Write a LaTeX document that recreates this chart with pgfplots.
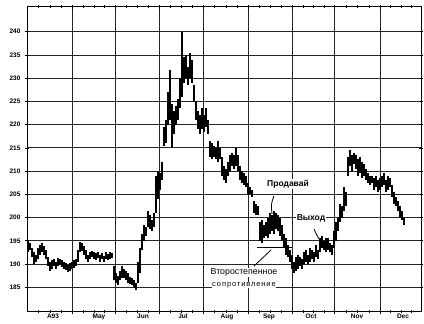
\documentclass[border=0pt]{standalone}
\usepackage{pgfplots}
\pgfplotsset{compat=1.18}
\usepackage{pgfplotstable}
\usepackage{fontspec}
\setmainfont{Liberation Sans}

\pgfplotstableread{
x lo hi
28 192.5 195.0
30 193.0 194.5
32 191.5 193.5
34 190.0 192.5
36 190.5 192.0
38 191.0 193.5
40 192.0 194.0
42 192.5 194.5
44 192.0 193.8
46 191.0 193.0
48 189.5 191.5
50 188.5 190.5
52 189.0 190.8
54 189.5 191.0
56 189.0 190.5
58 189.5 191.2
60 189.8 191.0
62 189.3 190.8
64 189.0 190.5
66 188.8 190.3
68 188.2 189.8
70 188.6 190.2
72 189.0 190.5
74 189.2 190.8
76 189.5 191.0
78 190.5 193.0
80 192.5 194.8
82 192.8 194.5
84 192.0 193.8
86 191.0 193.0
88 190.5 192.0
90 191.0 192.5
92 191.5 192.8
94 191.0 192.5
96 190.8 192.3
98 191.2 192.5
100 190.5 192.0
102 191.0 192.3
104 190.5 191.8
106 191.0 192.5
108 190.8 192.2
110 191.0 192.5
112 191.2 192.3
114 186.5 189.5
116 186.0 188.0
118 185.5 187.5
120 186.5 188.5
122 187.0 189.5
124 187.0 189.0
126 186.5 188.5
128 186.0 188.0
130 185.8 187.3
132 185.5 187.0
134 185.0 186.5
136 184.5 186.0
138 186.0 190.5
140 188.0 193.5
142 193.0 196.5
144 195.0 198.5
146 196.0 198.0
148 198.0 201.5
150 197.5 200.5
152 197.0 199.5
154 198.0 201.0
156 201.0 209.0
158 204.0 210.0
160 206.0 209.5
162 208.0 212.0
164 215.5 219.5
166 216.0 221.0
168 220.0 227.0
170 221.0 231.8
172 215.0 224.5
174 218.0 223.0
176 220.0 224.0
178 221.0 225.5
180 223.5 230.0
182 226.0 240.0
184 229.0 234.5
186 230.0 235.0
188 228.5 232.5
190 230.0 235.5
192 229.0 234.0
194 225.0 228.5
196 221.0 225.0
198 219.0 223.0
200 218.0 222.0
202 219.0 223.5
204 218.5 222.0
206 219.5 223.5
208 218.0 221.0
210 213.0 216.5
212 212.5 216.0
214 213.0 215.5
216 212.5 215.0
218 212.0 216.5
220 212.5 215.0
222 209.0 213.0
224 208.0 211.0
226 207.5 210.5
228 209.0 212.0
230 210.0 213.5
232 211.0 214.0
234 210.5 213.5
236 211.0 215.0
238 210.0 213.5
240 208.0 211.0
242 207.5 210.0
244 207.0 209.5
246 206.5 209.0
248 205.0 207.5
250 205.0 206.5
252 204.5 206.0
254 201.0 203.5
256 200.5 203.0
258 200.5 202.5
260 195.0 199.0
262 194.5 199.5
264 195.5 198.5
266 196.0 199.0
268 195.5 200.0
270 196.5 201.0
272 197.0 200.5
274 196.5 201.5
276 197.5 201.0
278 197.0 200.5
280 196.0 200.0
282 195.0 198.5
284 193.5 196.5
286 192.0 195.5
288 191.5 194.0
290 190.5 193.0
292 189.0 192.0
294 188.0 190.5
296 188.5 191.5
298 189.0 192.0
300 189.5 191.5
302 189.0 191.0
304 190.0 192.5
306 190.5 193.0
308 190.0 192.0
310 190.5 193.5
312 191.0 193.0
314 190.5 192.5
316 191.5 194.0
318 191.0 193.0
320 192.5 195.5
322 193.5 196.0
324 193.0 195.0
326 192.5 195.5
328 193.0 195.5
330 192.5 194.5
332 192.0 194.0
334 193.5 197.0
336 195.0 199.0
338 197.0 200.0
340 199.0 203.0
342 200.0 202.5
344 201.5 206.5
346 202.5 205.5
348 209.0 213.0
350 211.0 214.5
352 210.0 213.5
354 211.5 214.0
356 210.5 213.5
358 209.0 212.5
360 209.5 213.0
362 208.5 212.0
364 209.0 211.5
366 208.0 210.5
368 207.5 209.5
370 207.0 209.0
372 207.5 209.0
374 206.0 208.5
376 206.5 209.0
378 205.5 208.0
380 206.0 208.5
382 206.5 209.0
384 207.0 209.5
386 205.5 208.0
388 206.0 209.0
390 206.5 208.5
392 204.5 207.0
394 203.0 205.5
396 202.5 204.5
398 201.5 203.5
400 200.0 202.5
402 199.5 201.5
404 198.5 200.0
}\bars

\begin{document}
\begin{tikzpicture}[x=1pt,y=1pt]
\useasboundingbox[fill=white] (0,0) rectangle (424,324);
\begin{axis}[
  at={(27pt,12pt)}, anchor=south west,
  scale only axis, width=394pt, height=305pt,
  xmin=27, xmax=421, ymin=179.67, ymax=245.33,
  axis line style={black, line width=1pt},
  /pgf/number format/assume math mode=true,
  ytick={185,190,...,240},
  yticklabel style={font=\fontsize{6.5}{6.5}\selectfont\bfseries, xshift=-1pt},
  xtick={72,115,159,203,248,292,334,380},
  xticklabels={},
  minor xtick={38,50,61,83,94,104,126,137,148,170,181,192,214,226,237,259,270,281,303,313,324,346,357,369,390,401,411},
  xmajorgrids, ymajorgrids,
  grid style={black!85, line width=0.9pt},
  tick align=center,
  major tick length=4pt, minor tick length=3pt,
  tick style={black, line width=0.6pt},
  clip=false,
]
\addplot[draw=none, mark=none,
  error bars/.cd, y dir=plus, y explicit, error mark=none,
  error bar style={draw=black, solid, line width=1.15pt}]
  table[x=x, y=lo, y error plus expr=\thisrow{hi}-\thisrow{lo}] {\bars};

\foreach \m/\xx in {A93/53, May/99, Jun/143, Jul/183, Aug/227, Sep/269, Oct/311, Nov/357, Dec/403}{
  \edef\tmp{\noexpand\node[font=\noexpand\fontsize{6.5}{6.5}\noexpand\selectfont\noexpand\bfseries, anchor=center] at (axis cs:\xx,179.67) [yshift=-4.5pt] {\m};}
  \tmp
}
\end{axis}
% annotations (picture coords: y = 324 - pixel row)
\node[fill=white, inner sep=1pt, font=\fontsize{8.5}{8.5}\selectfont\bfseries] at (288,140) {Продавай};
\node[fill=white, inner sep=1pt, font=\fontsize{8.5}{8.5}\selectfont\bfseries] at (311,106) {Выход};
\node[fill=white, inner sep=0.5pt, font=\fontsize{8.8}{8.8}\selectfont] at (244,51.5) {Второстепенное};
\node[fill=white, inner sep=0.5pt, font=\fontsize{7.5}{7.5}\selectfont\addfontfeature{LetterSpace=12}] at (244,39) {сопротивление};
\draw[black, line width=0.8pt] (274,128) .. controls (271,120) .. (272,110);
\draw[black, line width=0.8pt] (314,95) .. controls (318,86) .. (325,79);
\draw[black, line width=0.8pt] (257,77) -- (292,77);
\draw[black, line width=0.8pt] (254,58) -- (271,74);
\end{tikzpicture}
\end{document}
